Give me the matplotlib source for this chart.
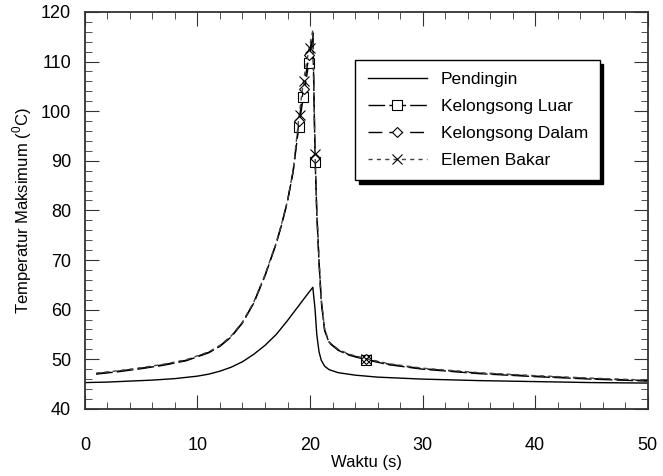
import numpy as np
import matplotlib
matplotlib.use("Agg")
import matplotlib.pyplot as plt

plt.rcParams['font.family'] = ['Liberation Sans', 'DejaVu Sans']
plt.rcParams['mathtext.fontset'] = 'custom'
plt.rcParams['mathtext.rm'] = 'Liberation Sans'

# Pendingin (coolant)
t_pend = [0, 2, 4, 6, 8, 10, 11, 12, 13, 14, 15, 16, 17, 18, 19, 19.6, 20.25,
          20.45, 20.6, 20.8, 21.0, 21.3, 21.7, 22.5, 24, 26, 30, 35, 40, 45, 50]
T_pend = [45.3, 45.4, 45.6, 45.8, 46.1, 46.6, 47.0, 47.6, 48.4, 49.5, 51.0, 52.8, 55.0,
          57.8, 60.8, 62.6, 64.5, 60, 55, 51.5, 49.8, 48.6, 47.9, 47.3, 46.8, 46.4,
          46.0, 45.7, 45.5, 45.3, 45.2]

# Kelongsong Luar / Dalam / Elemen Bakar (upper curves)
t_up = [1, 3, 5, 7, 9, 11, 12, 13, 14, 15, 16, 17, 17.5, 18, 18.5, 19, 19.4, 19.9, 20.25,
        20.45, 20.6, 20.8, 21.0, 21.3, 21.7, 22.5, 23.5, 25, 27, 30, 35, 40, 45, 50]
T_luar = [47.0, 47.5, 48.1, 48.8, 49.7, 51.3, 52.6, 54.5, 57.3, 61.3, 66.8, 73.3, 77.3,
          81.8, 87.8, 96.8, 102.8, 109.8, 115.5, 90.5, 79.5, 69.5, 61.5, 55.8, 53.3,
          51.8, 50.8, 49.9, 48.9, 48.0, 47.1, 46.5, 46.0, 45.6]
T_dalam = [47.1, 47.6, 48.2, 48.9, 49.8, 51.4, 52.7, 54.6, 57.4, 61.4, 66.9, 73.4, 77.4,
           81.9, 87.9, 97.6, 104.3, 111.0, 115.8, 90.8, 79.8, 69.8, 61.8, 55.9, 53.4,
           51.9, 50.9, 50.0, 49.0, 48.1, 47.2, 46.6, 46.1, 45.7]
T_elemen = [47.2, 47.7, 48.3, 49.0, 49.9, 51.5, 52.8, 54.7, 57.5, 61.5, 67.0, 73.5, 77.5,
            82.0, 88.0, 98.5, 105.8, 112.5, 116.3, 91.2, 80.0, 70.0, 62.0, 56.0, 53.5,
            52.0, 51.0, 50.1, 49.1, 48.2, 47.3, 46.7, 46.2, 45.8]

# marker points
mk_t_luar = [19.0, 19.4, 19.9, 20.45, 25]
mk_T_luar = [96.8, 102.8, 109.8, 89.8, 49.9]
mk_t_dalam = [19.05, 19.45, 19.95, 20.45, 25]
mk_T_dalam = [98.0, 104.5, 111.3, 90.6, 50.0]
mk_t_elemen = [19.1, 19.5, 20.0, 20.45, 25]
mk_T_elemen = [99.2, 106.0, 112.8, 91.3, 50.0]

fig = plt.figure(figsize=(6.63, 4.76), dpi=100)
ax = fig.add_axes([0.128, 0.141, 0.849, 0.834])

ax.plot(t_pend, T_pend, color='black', lw=1.0, label='Pendingin')

l1, = ax.plot(t_up, T_luar, color='black', lw=1.0, dashes=(12, 3))
m1, = ax.plot(mk_t_luar, mk_T_luar, ls='none', marker='s', ms=7, mfc='white',
              mec='black', mew=0.8)
l2, = ax.plot(t_up, T_dalam, color='black', lw=1.0, dashes=(10, 5))
m2, = ax.plot(mk_t_dalam, mk_T_dalam, ls='none', marker='D', ms=5, mfc='white',
              mec='black', mew=0.8)
l3, = ax.plot(t_up, T_elemen, color='#444444', lw=1.0, dashes=(3, 3))
m3, = ax.plot(mk_t_elemen, mk_T_elemen, ls='none', marker='x', ms=7,
              mec='black', mew=0.8)

h0 = ax.get_lines()[0]
hl1 = plt.Line2D([], [], color='black', lw=1.0, marker='s', ms=7, mfc='white',
                 mec='black', mew=0.8, dashes=(12, 3))
hl2 = plt.Line2D([], [], color='black', lw=1.0, marker='D', ms=5, mfc='white',
                 mec='black', mew=0.8, dashes=(10, 5))
hl3 = plt.Line2D([], [], color='#444444', lw=1.0, marker='x', ms=7,
                 mec='black', mew=0.8, dashes=(3, 3))

leg = ax.legend([h0, hl1, hl2, hl3],
                ['Pendingin', 'Kelongsong Luar', 'Kelongsong Dalam', 'Elemen Bakar'],
                loc='upper right', bbox_to_anchor=(0.915, 0.879), borderaxespad=0,
                fontsize=12.5, frameon=True, fancybox=False,
                shadow={'color': 'black', 'alpha': 1.0, 'ox': 2.5, 'oy': -3},
                edgecolor='black', handlelength=3.4, labelspacing=0.68,
                borderpad=0.7, handletextpad=0.8)
leg.get_frame().set_linewidth(1.0)

ax.set_xlim(0, 50)
ax.set_ylim(40, 120)
ax.set_xticks(np.arange(0, 51, 10))
ax.set_xticks(np.arange(0, 51, 2), minor=True)
ax.set_yticks(np.arange(40, 121, 10))
ax.set_yticks(np.arange(40, 121, 2), minor=True)

ax.tick_params(which='both', direction='in', top=True, right=True, labelsize=13,
               color='#333333')
ax.tick_params(axis='x', which='major', length=10, pad=20)
ax.tick_params(axis='y', which='major', length=10, pad=10)
ax.tick_params(which='minor', length=5)
for s in ax.spines.values():
    s.set_linewidth(1.3)
    s.set_color('#333333')

ax.set_xlabel('Waktu (s)', fontsize=12, labelpad=1)
ax.set_ylabel('Temperatur Maksimum ($^{0}$C)', fontsize=12, labelpad=5)

fig.savefig('out.png', dpi=100)
